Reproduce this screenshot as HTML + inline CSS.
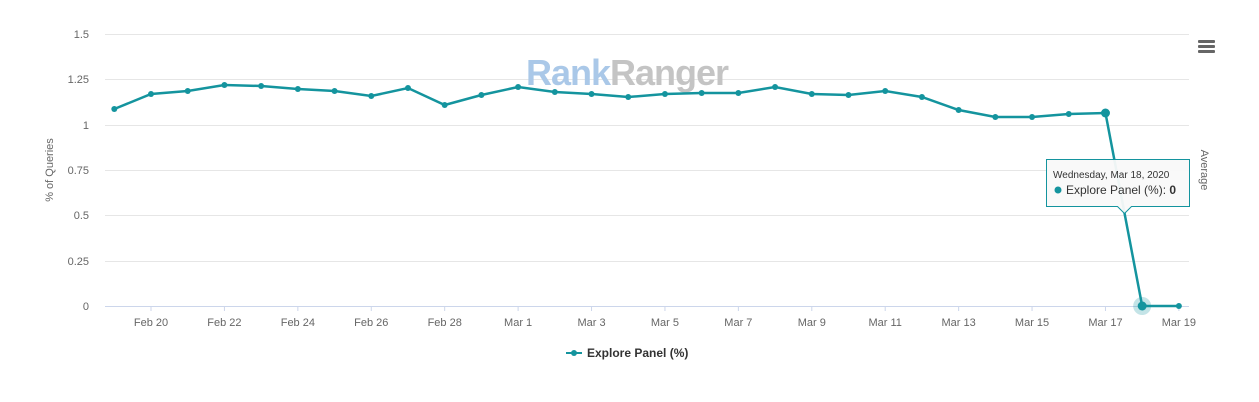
<!DOCTYPE html><html><head><style>body{margin:0;background:#fff}svg{display:block;font-family:"Liberation Sans",sans-serif}</style></head><body>
<svg width="1259" height="402" xmlns="http://www.w3.org/2000/svg">
<g stroke="#e6e6e6" stroke-width="1">
<line x1="105" x2="1189" y1="34.5" y2="34.5"/><line x1="105" x2="1189" y1="79.5" y2="79.5"/><line x1="105" x2="1189" y1="125.5" y2="125.5"/><line x1="105" x2="1189" y1="170.5" y2="170.5"/><line x1="105" x2="1189" y1="215.5" y2="215.5"/><line x1="105" x2="1189" y1="261.5" y2="261.5"/>
</g>
<line x1="105" x2="1189" y1="306.5" y2="306.5" stroke="#ccd6eb"/>
<g font-size="11" fill="#666" text-anchor="end">
<text x="89" y="38">1.5</text><text x="89" y="83">1.25</text><text x="89" y="129">1</text><text x="89" y="174">0.75</text><text x="89" y="219">0.5</text><text x="89" y="265">0.25</text><text x="89" y="310">0</text>
</g>
<text transform="translate(53,170) rotate(-90)" font-size="11" fill="#666" text-anchor="middle">% of Queries</text>
<text transform="translate(1201,170) rotate(90)" font-size="11" fill="#666" text-anchor="middle">Average</text>
<g font-size="11" fill="#666" text-anchor="middle" id="xl"></g>
<text x="627" y="85" font-size="36" font-weight="bold" text-anchor="middle" letter-spacing="-1"><tspan fill="#aac8e8">Rank</tspan><tspan fill="#c4c4c4">Ranger</tspan></text>
<g fill="#666"><rect x="1198" y="40" width="17" height="3" rx="1"/><rect x="1198" y="45" width="17" height="3" rx="1"/><rect x="1198" y="50" width="17" height="3" rx="1"/></g>
<polyline id="ln" fill="none" stroke="#14949e" stroke-width="2.5"/>
<g id="pts" fill="#14949e"></g>
<line x1="566" x2="582" y1="353" y2="353" stroke="#14949e" stroke-width="2"/><circle cx="574" cy="353" r="3" fill="#14949e"/>
<text x="587" y="357" font-size="12" font-weight="bold" fill="#333">Explore Panel (%)</text>
<path d="M1046.5,159.5h143v47h-58l-7,7-7,-7h-71z" fill="#f9f9f9" fill-opacity="0.95" stroke="#14949e"/>
<text x="1053" y="178" font-size="10" fill="#333">Wednesday, Mar 18, 2020</text>
<circle cx="1058" cy="190" r="3.5" fill="#14949e"/>
<text x="1066" y="194" font-size="12" fill="#333">Explore Panel (%): <tspan font-weight="bold">0</tspan></text>
</svg>
<script>
var ys=[109,94,91,85,86,89,91,96,88,105,95,87,92,94,97,94,93,93,87,94,95,91,97,110,117,117,114,113,306,306];
var ns="http://www.w3.org/2000/svg",pts=[],g=document.getElementById('pts');
ys.forEach(function(y,i){var x=114.3+i*36.71;pts.push(x+','+y);
if(i==28){var h=document.createElementNS(ns,'circle');h.setAttribute('cx',x);h.setAttribute('cy',y);h.setAttribute('r',9);h.setAttribute('fill','#14949e');h.setAttribute('fill-opacity','0.25');g.appendChild(h);}
var c=document.createElementNS(ns,'circle');c.setAttribute('cx',x);c.setAttribute('cy',y);c.setAttribute('r',i==27||i==28?4.5:3);g.appendChild(c);});
document.getElementById('ln').setAttribute('points',pts.join(' '));
var L=['Feb 20','Feb 22','Feb 24','Feb 26','Feb 28','Mar 1','Mar 3','Mar 5','Mar 7','Mar 9','Mar 11','Mar 13','Mar 15','Mar 17','Mar 19'],xl=document.getElementById('xl');
L.forEach(function(t,k){var x=114.3+(1+2*k)*36.71;var e=document.createElementNS(ns,'text');e.setAttribute('x',x);e.setAttribute('y',326);e.textContent=t;xl.appendChild(e);
var tk=document.createElementNS(ns,'line');tk.setAttribute('x1',x);tk.setAttribute('x2',x);tk.setAttribute('y1',306);tk.setAttribute('y2',311);tk.setAttribute('stroke','#ccd6eb');xl.appendChild(tk);});
</script>
</body></html>
